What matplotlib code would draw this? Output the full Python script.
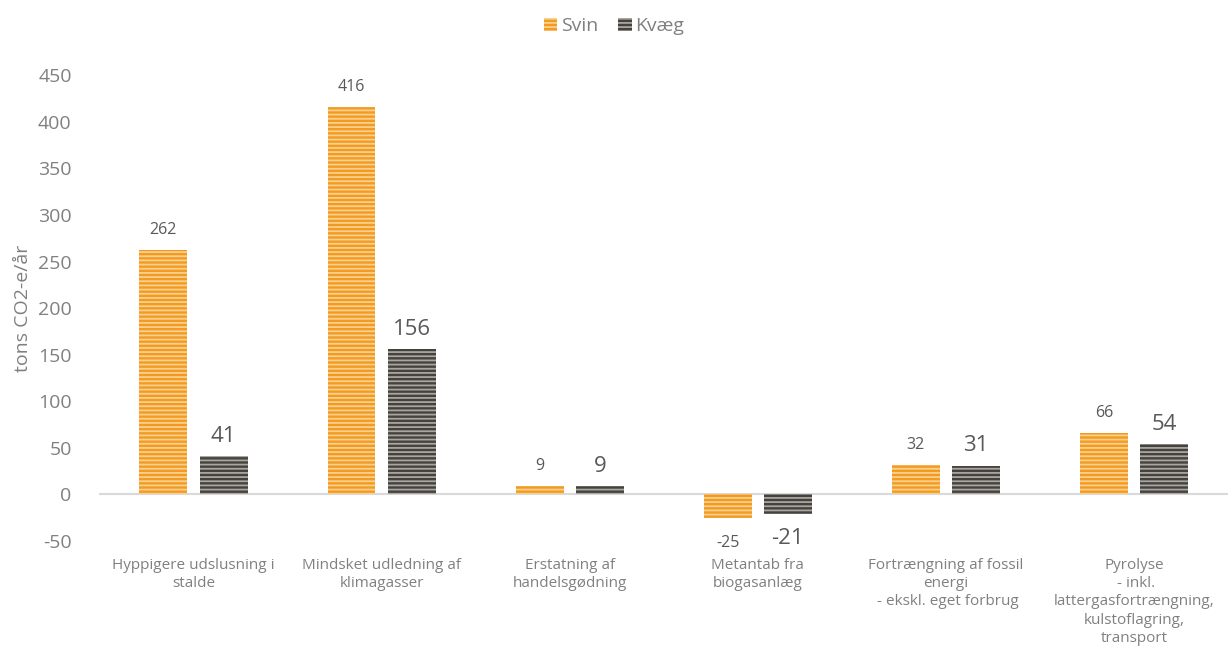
import matplotlib.pyplot as plt
import numpy as np

plt.rcParams['font.family'] = ['Open Sans', 'DejaVu Sans']
plt.rcParams['hatch.linewidth'] = 1.3
plt.rcParams['axes.unicode_minus'] = False

categories = ["Hyppigere udslusning i\nstalde", "Mindsket udledning af\nklimagasser",
              "Erstatning af\nhandelsgødning", "Metantab fra\nbiogasanlæg",
              "Fortrængning af fossil\nenergi\n - ekskl. eget forbrug",
              "Pyrolyse\n - inkl.\nlattergasfortrængning,\nkulstoflagring,\ntransport"]
svin = [262, 416, 9, -25, 32, 66]
kvaeg = [41, 156, 9, -21, 31, 54]

grey = '#808080'
fig = plt.figure(figsize=(12.28, 6.48), dpi=100)
ax = fig.add_axes([0.081, 0.165, 0.919, 0.719])

x = np.arange(len(categories))
w = 0.255
off = 0.16
b1 = ax.bar(x - off, svin, w, color='#F39A21', edgecolor='#FAD08F', hatch='----', linewidth=0, label='Svin')
b2 = ax.bar(x + off, kvaeg, w, color='#45423D', edgecolor='#A8A6A2', hatch='----', linewidth=0, label='Kvæg')

for xi, v in zip(x, svin):
    if v >= 0:
        ax.text(xi - off, v + 13, str(v), ha='center', va='bottom', fontsize=11.5, color='#595959')
    else:
        ax.text(xi - off, v - 18, str(v), ha='center', va='top', fontsize=11.5, color='#595959')
for xi, v in zip(x, kvaeg):
    if v >= 0:
        ax.text(xi + off, v + 10, str(v), ha='center', va='bottom', fontsize=16, color='#595959')
    else:
        ax.text(xi + off, v - 15, str(v), ha='center', va='top', fontsize=16, color='#595959')

ax.set_xlim(-0.5, len(categories) - 0.5)
ax.set_ylim(-50, 450)
ax.set_yticks(range(-50, 451, 50))
ax.tick_params(axis='y', length=0, labelsize=14, labelcolor=grey, pad=20)
ax.set_xticks(x)
ax.set_xticklabels(categories, fontsize=11, color=grey, va='top', linespacing=1.3)
ax.tick_params(axis='x', length=0, pad=12)
ax.set_ylabel('tons CO2-e/år', fontsize=14, color=grey, labelpad=4)
for s in ax.spines.values():
    s.set_visible(False)
ax.axhline(0, color='#D9D9D9', linewidth=1.5, zorder=0)

fig.legend(handles=[b1, b2], loc='upper center', bbox_to_anchor=(0.5, 1.0), ncol=2, frameon=False,
           fontsize=14, labelcolor=grey, handlelength=0.7, handleheight=0.7, handletextpad=0.2,
           columnspacing=1.0)

fig.savefig('out.png', dpi=100)
